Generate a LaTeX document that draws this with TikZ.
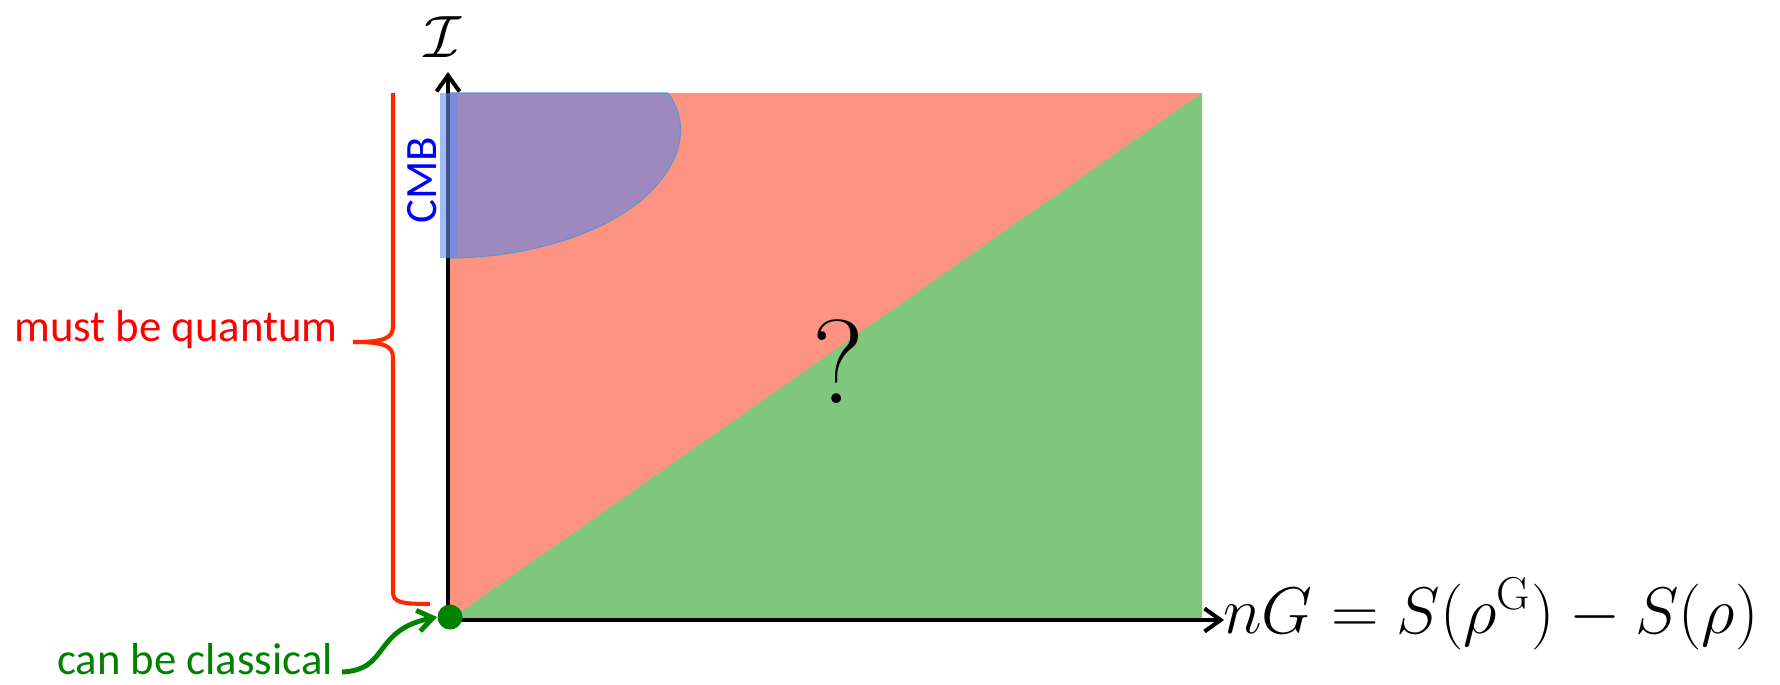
\RequirePackage{fix-cm}
\documentclass[tikz,border=0pt]{standalone}
\usepackage{fontspec}
\usetikzlibrary{arrows.meta}
\newfontfamily\calibri{Carlito}
\definecolor{quantumred}{RGB}{253,147,128}
\definecolor{classgreen}{RGB}{128,199,126}
\definecolor{cmbpurple}{RGB}{158,137,191}
\definecolor{cmbblue}{RGB}{100,140,240}
\definecolor{cmbedge}{RGB}{90,150,210}
\definecolor{labelgreen}{RGB}{0,130,0}
\definecolor{bracered}{RGB}{255,38,0}
\begin{document}
\begin{tikzpicture}[x=0.02cm, y=-0.02cm,
  axis/.style={line width=2.3pt, -{Straight Barb[length=0.32cm, width=0.46cm]}},
  lbl/.style={inner sep=0pt, font=\calibri\fontsize{25.5}{30}\selectfont},
  brace/.style={draw=bracered, line width=2.3pt, line join=round}]
\useasboundingbox (0,0) rectangle (1780,684);
% regions
\fill[quantumred] (448,93) rectangle (1202,620);
\fill[classgreen] (449,620) -- (1202,93) -- (1202,620) -- cycle;
\filldraw[fill=cmbpurple, draw=cmbedge, line width=0.6pt] (448,93) -- (668,93)
  .. controls (684,115) and (684,140) .. (672,163)
  .. controls (640,225) and (540,258) .. (448,258) -- cycle;
% axes
\coordinate (O) at (448,620);
\draw[axis] (O) -- (1224,620) coordinate (xend);
\draw[axis] (O) -- (448,72) coordinate (yend);
\fill[cmbblue, opacity=0.6] (440,93) rectangle (457,258);
\node[anchor=west, inner sep=0pt, font=\fontsize{37.5}{45}\selectfont] (xl) at (1223,614) {$nG = S(\rho^{\mathrm{G}}) - S(\rho)$};
\node[inner sep=0pt, font=\fontsize{34}{40}\selectfont] (yl) at (443,37) {$\mathcal{I}$};
\node[lbl, blue, rotate=90] (cmb) at (422,180) {CMB};
\node[inner sep=0pt, font=\fontsize{68}{80}\selectfont] (q) at (838,362) {?};
% labels
\node[lbl, red] (mq) at (176,330) {must be quantum};
\draw[brace] (393,93) -- (393,326) .. controls (393,338) and (385,342) .. (353,342);
\draw[brace] (353,342) .. controls (385,342) and (393,346) .. (393,358) -- (393,592)
  .. controls (393,602) and (400,604) .. (430,604);
\node[circle, fill=labelgreen, inner sep=0pt, minimum size=0.5cm] (dot) at (450,617) {};
\node[lbl, labelgreen] (cc) at (195,659) {can be classical};
\draw[labelgreen, line width=2.8pt, -{Straight Barb[length=0.3cm, width=0.42cm]}]
  (342,672) .. controls (390,670) and (372,630) .. (dot.west);
\end{tikzpicture}
\end{document}
